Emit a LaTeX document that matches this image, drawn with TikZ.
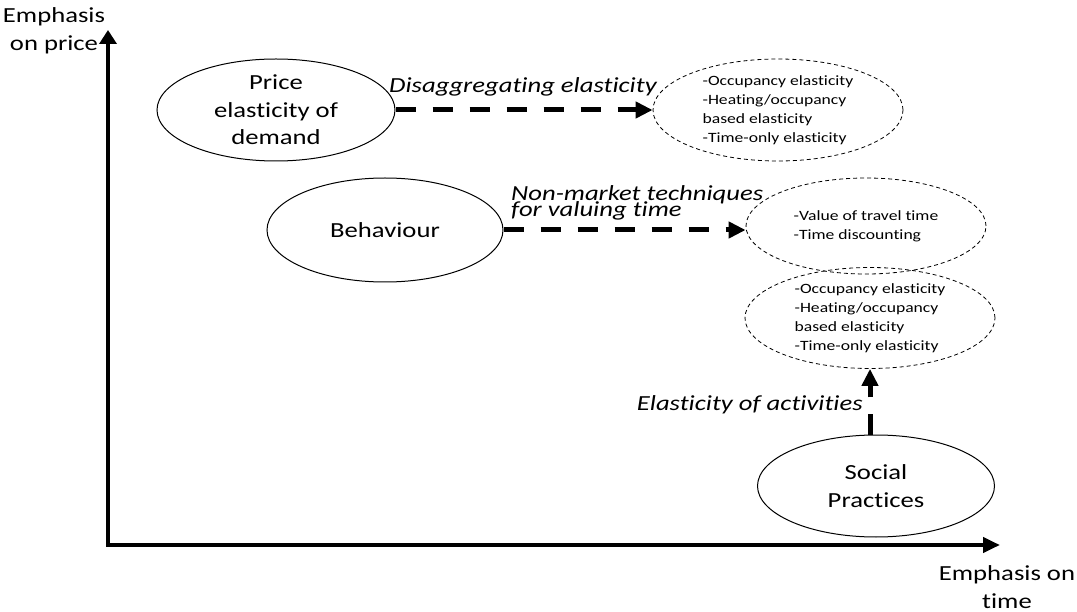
\documentclass[tikz,border=0pt]{standalone}
\usepackage{fontspec}
\setmainfont{Carlito}[FakeStretch=1.24, Ligatures=CommonOff]
\usetikzlibrary{shapes.geometric,arrows.meta}
\newcommand\tightlns{\lineskiplimit -100pt\relax\lineskip 0pt\relax}
\tikzset{
  big/.style={font=\fontsize{21.5}{27.5}\selectfont, align=center, inner sep=0pt},
  small/.style={font=\fontsize{14.2}{19}\selectfont, align=left, inner sep=0pt},
  solidell/.style={ellipse, draw, line width=1pt, inner sep=0pt},
  dashell/.style={ellipse, draw, line width=0.8pt, dash pattern=on 4pt off 3pt, inner sep=0pt},
  flow/.style={line width=5pt, dash pattern=on 20pt off 17pt, -{Triangle[length=17pt,width=16pt]}},
  axis/.style={line width=4.5pt, line join=miter, {Triangle[length=14pt,width=17pt]}-{Triangle[length=17pt,width=15pt]}},
  lab/.style={font=\itshape\fontsize{21.5}{16}\selectfont\tightlns, align=left, inner sep=0pt},
  axlab/.style={font=\fontsize{21.5}{28}\selectfont, align=center, inner sep=0pt},
}
\begin{document}
\begin{tikzpicture}[x=1pt,y=-1pt]
\useasboundingbox (0,0) rectangle (1077,612);
% axes
\coordinate (origin) at (108,545);
\coordinate (ytip) at (108,30);
\coordinate (xtip) at (1000,545);
\draw[axis] (ytip) -- (origin) -- (xtip);
\node[axlab] (ylab) at (54,31) {Emphasis\\on price};
\node[axlab] (xlab) at (1007,587) {Emphasis on\\time};
% main ellipses
\node[solidell, minimum width=238pt, minimum height=102pt,
  label={[big]center:{Price\\elasticity of\\demand}}] (pe) at (276,110) {};
\node[solidell, minimum width=236pt, minimum height=104pt,
  label={[big]center:{Behaviour}}] (be) at (385,230) {};
\node[solidell, minimum width=237pt, minimum height=102pt,
  label={[big]center:{Social\\Practices}}] (sp) at (876,486) {};
% dashed ellipses
\node[dashell, minimum width=250pt, minimum height=102pt,
  label={[small]center:{-Occupancy elasticity\\-Heating/occupancy\\based elasticity\\-Time-only elasticity}}] (oc1) at (778,110) {};
\node[dashell, minimum width=240pt, minimum height=96pt,
  label={[small]center:{-Value of travel time\\-Time discounting}}] (vt) at (866,226) {};
\node[dashell, minimum width=250pt, minimum height=101pt,
  label={[small]center:{-Occupancy elasticity\\-Heating/occupancy\\based elasticity\\-Time-only elasticity}}] (oc2) at (870,318) {};
% connectors
\draw[flow] (pe.east) -- (oc1.west);
\draw[flow] (be.east) -- (be.east -| vt.west);
\draw[flow] (sp.north -| oc2.south) -- (oc2.south);
% connector labels
\node[lab, anchor=base] (l1) at (523,93) {Disaggregating elasticity};
\node[lab, anchor=base west] (l2) at (511,217) {Non-market techniques\\for valuing time};
\node[lab, anchor=base east] (l3) at (863,410) {Elasticity of activities};
\end{tikzpicture}
\end{document}
